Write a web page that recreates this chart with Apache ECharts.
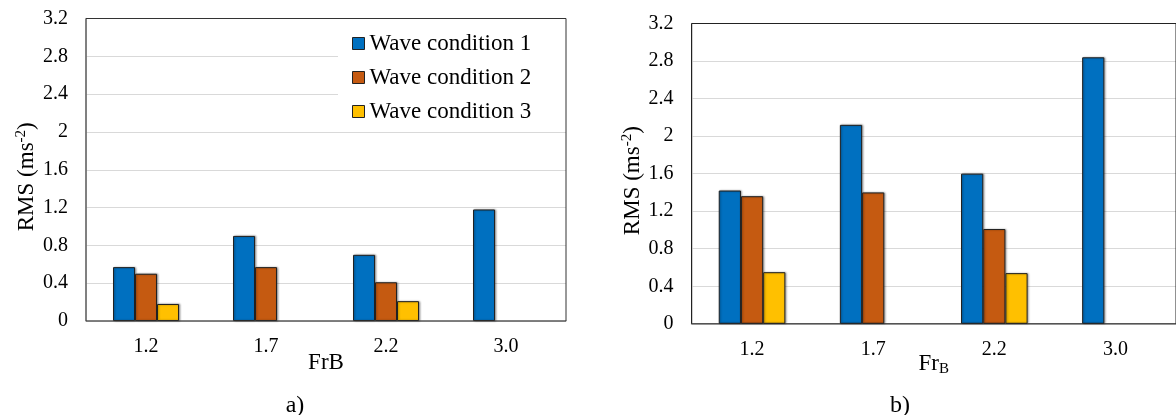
<!DOCTYPE html>
<html>
<head>
<meta charset="utf-8">
<script src="https://cdn.jsdelivr.net/npm/echarts@6/dist/echarts.min.js"></script>
<style>
  html, body { margin: 0; padding: 0; background: #fff; }
  #chart { width: 1176px; height: 415px; }
</style>
</head>
<body>
<div id="chart"></div>
<script>
// ---- data ----
const categories = ['1.2', '1.7', '2.2', '3.0'];
const seriesNames = ['Wave condition 1', 'Wave condition 2', 'Wave condition 3'];
// panel a)
const aWave1 = [0.57, 0.90, 0.70, 1.18];
const aWave2 = [0.50, 0.57, 0.41, null];
const aWave3 = [0.18, null, 0.21, null];
// panel b)
const bWave1 = [1.42, 2.12, 1.60, 2.84];
const bWave2 = [1.36, 1.40, 1.01, null];
const bWave3 = [0.55, null, 0.54, null];
const yMin = 0, yMax = 3.2, yStep = 0.4;
const panelLabels = ['a)', 'b)'];

const colors = ['#0070C0', '#C55A11', '#FFC000'];
const FONT = '"Liberation Serif", "Times New Roman", serif';

const chart = echarts.init(document.getElementById('chart'), null, { renderer: 'canvas' });

function yAxisCfg(gridIndex) {
  return {
    type: 'value', gridIndex, min: yMin, max: yMax, interval: yStep,
    name: 'RMS (ms{sup|-2})',
    nameLocation: 'middle', nameGap: 46,
    nameMoveOverlap: false,
    nameTextStyle: {
      fontFamily: FONT, fontSize: 23, color: '#000', lineHeight: 26,
      padding: [0, 14, 0, 0],
      rich: { sup: { fontFamily: FONT, fontSize: 15, lineHeight: 15, verticalAlign: 'top', color: '#000' } }
    },
    axisLine: { show: true, lineStyle: { color: '#bfbfbf', width: 1.5 } },
    axisTick: { show: false },
    axisLabel: { fontFamily: FONT, fontSize: 20, color: '#000', margin: 18 },
    splitLine: { show: true, lineStyle: { color: '#d9d9d9', width: 1.2 } }
  };
}
function xAxisCfg(gridIndex, name, gap) {
  return {
    type: 'category', gridIndex, data: categories,
    name, nameLocation: 'middle', nameGap: gap,
    nameMoveOverlap: false,
    nameTextStyle: {
      fontFamily: FONT, fontSize: 23, color: '#000', lineHeight: 26,
      rich: { sub: { fontFamily: FONT, fontSize: 15, lineHeight: 15, verticalAlign: 'bottom', color: '#000' } }
    },
    axisLine: { show: true, lineStyle: { color: '#bfbfbf', width: 1.5 } },
    axisTick: { show: false },
    axisLabel: { fontFamily: FONT, fontSize: 20, color: '#000', margin: 16 },
    splitLine: { show: false }
  };
}
function barSeries(name, data, idx, axisIdx) {
  return {
    type: 'bar', name, data, xAxisIndex: axisIdx, yAxisIndex: axisIdx,
    barGap: '0%', barCategoryGap: '45%',
    itemStyle: {
      color: colors[idx], borderColor: '#222', borderWidth: 1,
      shadowColor: 'rgba(0,0,0,0.35)', shadowBlur: 2, shadowOffsetX: 1, shadowOffsetY: 0
    }
  };
}

const option = {
  animation: false,
  backgroundColor: '#fff',
  title: [
    { text: panelLabels[0], left: 290, top: 389, textAlign: 'center',
      textStyle: { fontFamily: FONT, fontSize: 24, fontWeight: 'normal', color: '#000' } },
    { text: panelLabels[1], left: 895, top: 389, textAlign: 'center',
      textStyle: { fontFamily: FONT, fontSize: 24, fontWeight: 'normal', color: '#000' } }
  ],
  legend: {
    data: seriesNames,
    orient: 'vertical',
    left: 338, top: 19,
    padding: [13, 40, 6, 14],
    itemWidth: 12, itemHeight: 12, itemGap: 11,
    itemTextGap: 6,
    icon: 'rect',
    backgroundColor: '#fff',
    z: 1,
    textStyle: { fontFamily: FONT, fontSize: 23, color: '#000' },
    itemStyle: { borderColor: '#222', borderWidth: 1, shadowBlur: 0 }
  },
  grid: [
    { left: 86, top: 18.5, width: 480, height: 302.5, show: true, borderColor: '#333', borderWidth: 1,
      backgroundColor: 'transparent', z: 3, containLabel: false },
    { left: 691.5, top: 23.5, width: 488, height: 300.3, show: true, borderColor: '#222', borderWidth: 1,
      backgroundColor: 'transparent', z: 3, containLabel: false }
  ],
  xAxis: [ xAxisCfg(0, 'FrB', 29), xAxisCfg(1, 'Fr{sub|B}', 27) ],
  yAxis: [ yAxisCfg(0), yAxisCfg(1) ],
  series: [
    barSeries(seriesNames[0], aWave1, 0, 0),
    barSeries(seriesNames[1], aWave2, 1, 0),
    barSeries(seriesNames[2], aWave3, 2, 0),
    barSeries(seriesNames[0], bWave1, 0, 1),
    barSeries(seriesNames[1], bWave2, 1, 1),
    barSeries(seriesNames[2], bWave3, 2, 1)
  ]
};
chart.setOption(option);
</script>
</body>
</html>
